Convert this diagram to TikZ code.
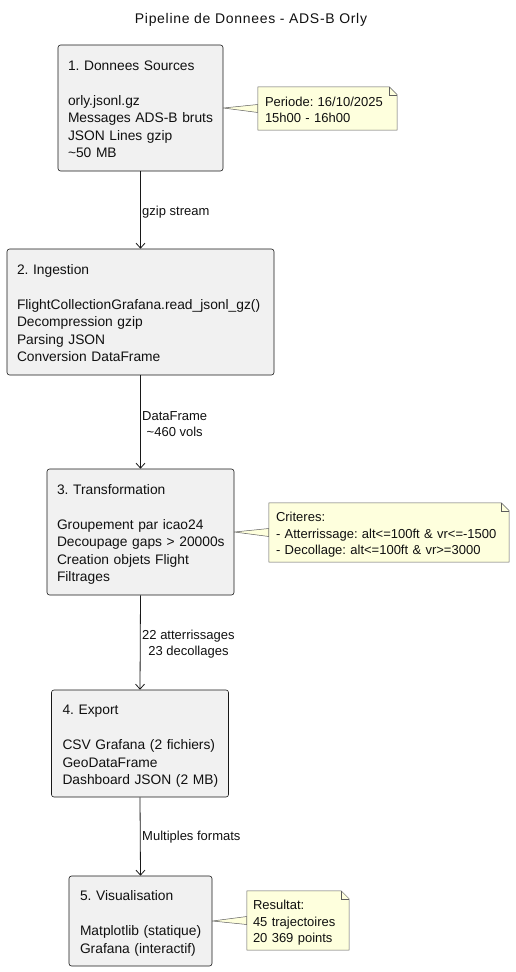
\documentclass[tikz,border=0pt]{standalone}
\usepackage{fontspec}
\setmainfont{Liberation Sans}
\frenchspacing
\usetikzlibrary{arrows.meta,backgrounds}
\definecolor{boxfill}{HTML}{F1F1F1}
\definecolor{notefill}{HTML}{FEFFDD}
\definecolor{edgec}{HTML}{181818}
\definecolor{txt}{HTML}{101010}
\newcommand\mynoteshape[1]{%
  \draw[notedraw] (#1.north west) -- ([xshift=-8pt]#1.north east) -- ([yshift=-8pt]#1.north east) -- (#1.south east) -- (#1.south west) -- cycle;
  \draw[notedraw,fill=none] ([xshift=-8pt]#1.north east) -- ([xshift=-8pt,yshift=-8pt]#1.north east) -- ([yshift=-8pt]#1.north east);}
\newcommand\mywedge[2]{%
  \draw[notedraw] (#1.east) -- ([yshift=4pt]#2.west) -- ([yshift=-4pt]#2.west) -- cycle;}
\newcommand\mylines[1]{\setbox0\hbox{\begin{tabular}{@{}l@{}}#1\end{tabular}}\raisebox{-2.5pt}[\ht0][\dp0]{\copy0}}
\begin{document}
\begin{tikzpicture}[x=1pt,y=-1pt,
 stepbox/.style={draw=edgec, fill=boxfill, rounded corners=2.5pt, line width=0.6pt, inner xsep=10pt, inner ysep=0pt, align=left, text=txt, font=\fontsize{13.8}{17.5}\selectfont, anchor=center},
 notebox/.style={inner xsep=7pt, inner ysep=0pt, align=left, text=txt, font=\fontsize{13}{16.3}\selectfont, anchor=center},
 notedraw/.style={draw=edgec!70, fill=notefill, line width=0.5pt},
 lbl/.style={font=\fontsize{13}{16}\selectfont, text=txt, align=center, inner sep=0pt, anchor=west},
 flow/.style={draw=edgec, line width=0.8pt, -{Straight Barb[length=5pt,width=9pt]}}
]
\useasboundingbox (0,0) rectangle (515,972);

\node[inner sep=0pt, text=txt, font=\fontsize{14}{16}\selectfont\addfontfeature{LetterSpace=5}] (title) at (251,20) {Pipeline de Donnees - ADS-B Orly};

\node[stepbox, text width=145pt, minimum height=126pt] (b1) at (140.5,108) {\mylines{1. Donnees Sources\\ \\orly.jsonl.gz\\Messages ADS-B bruts\\JSON Lines gzip\\\textasciitilde50 MB}};
\node[stepbox, text width=247pt, minimum height=126pt] (b2) at (140.5,312) {\mylines{2. Ingestion\\ \\FlightCollectionGrafana.read\_jsonl\_gz()\\Decompression gzip\\Parsing JSON\\Conversion DataFrame}};
\node[stepbox, text width=167pt, minimum height=126pt] (b3) at (140.5,532) {\mylines{3. Transformation\\ \\Groupement par icao24\\Decoupage gaps > 20000s\\Creation objets Flight\\Filtrages}};
\node[stepbox, text width=155pt, minimum height=107pt, inner xsep=11pt] (b4) at (140,743.5) {\mylines{4. Export\\ \\CSV Grafana (2 fichiers)\\GeoDataFrame\\Dashboard JSON (2 MB)}};
\node[stepbox, text width=121pt, minimum height=90pt, inner xsep=11pt] (b5) at (140.5,921) {\mylines{5. Visualisation\\ \\Matplotlib (statique)\\Grafana (interactif)}};

\node[notebox, text width=125pt, minimum height=43pt] (n1) at (327.5,108.5) {\mylines{Periode: 16/10/2025\\15h00 - 16h00}};
\node[notebox, text width=226pt, minimum height=59pt] (n2) at (389,532.5) {\mylines{Criteres:\\- Atterrissage: alt<=100ft \& vr<=-1500\\- Decollage: alt<=100ft \& vr>=3000}};
\node[notebox, text width=90pt, minimum height=59pt, inner xsep=6pt] (n3) at (298,920.5) {\mylines{Resultat:\\45 trajectoires\\20 369 points}};

\begin{scope}[on background layer]
\mywedge{b1}{n1}
\mywedge{b3}{n2}
\mywedge{b5}{n3}
\mynoteshape{n1}
\mynoteshape{n2}
\mynoteshape{n3}
\end{scope}

\draw[flow] (b1.south) -- (b2.north);
\draw[flow] (b2.south) -- (b3.north);
\draw[flow] (b3.south) -- (b4.north);
\draw[flow] (b4.south) -- (b5.north);

\node[lbl] (l1) at (142,212) {gzip stream};
\node[lbl] (l2) at (142,424) {DataFrame\\\textasciitilde460 vols};
\node[lbl] (l3) at (142,644) {22 atterrissages\\23 decollages};
\node[lbl] (l4) at (142,837) {Multiples formats};
\end{tikzpicture}
\end{document}
